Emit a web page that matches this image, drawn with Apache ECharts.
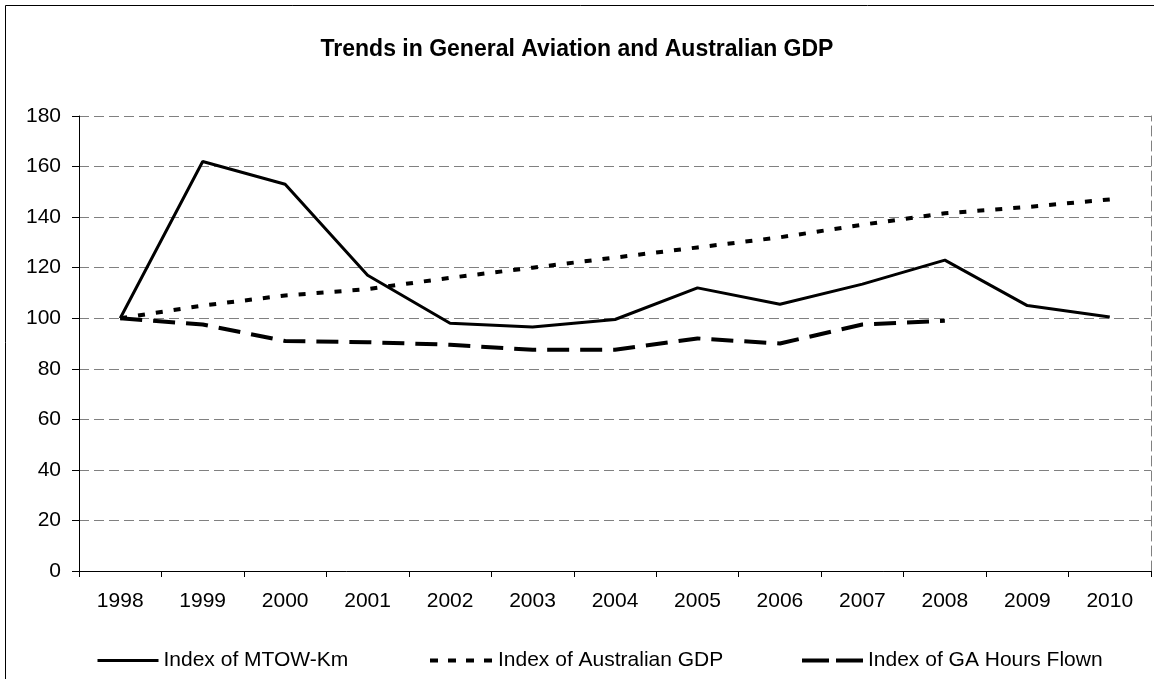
<!DOCTYPE html>
<html>
<head>
<meta charset="utf-8">
<script src="https://cdn.jsdelivr.net/npm/echarts@6/dist/echarts.min.js"></script>
<style>
html,body{margin:0;padding:0;background:#fff;}
#chart{width:1154px;height:679px;}
</style>
</head>
<body>
<div id="chart"></div>
<script>
var years = ['1998','1999','2000','2001','2002','2003','2004','2005','2006','2007','2008','2009','2010'];
var mtowIndex = [100, 162, 153, 117, 98, 96.5, 99.5, 112, 105.5, 113.5, 123, 105, 100.5];
var gdpIndex = [100, 105, 109, 111.5, 116, 120, 124, 128, 132, 137, 141.5, 144, 147];
var gaHoursIndex = [100, 97.5, 91, 90.5, 89.5, 87.5, 87.5, 92, 90, 97.5, 99, null, null];
var seriesNames = ['Index of MTOW-Km', 'Index of Australian GDP', 'Index of GA Hours Flown'];

var FONT = '"Liberation Sans", Arial, sans-serif';
var chart = echarts.init(document.getElementById('chart'), null, {renderer: 'canvas'});

function legendAt(name, left, w, lw, dash) {
  return {
    data: [name], left: left, top: 650, padding: 0,
    itemWidth: w, itemHeight: 20, itemGap: 0,
    selectedMode: false,
    itemStyle: {opacity: 0},
    lineStyle: {color: '#000', width: lw, type: dash, opacity: 1},
    textStyle: {fontFamily: FONT, fontSize: 21, fontWeight: 'normal', color: '#000'}
  };
}

chart.setOption({
  animation: false,
  backgroundColor: '#fff',
  title: {
    text: 'Trends in General Aviation and Australian GDP',
    left: 'center', top: 33,
    textStyle: {fontFamily: FONT, fontSize: 23, fontWeight: 'bold', color: '#000'}
  },
  graphic: [{
    type: 'rect', left: 3, top: 3, silent: true,
    shape: {x: 0, y: 0, width: 1170, height: 700},
    style: {fill: 'none', stroke: '#000', lineWidth: 1}
  }],
  legend: [
    legendAt(seriesNames[0], 96, 61, 3, 'solid'),
    legendAt(seriesNames[1], 428, 63, 4, [8, 10]),
    legendAt(seriesNames[2], 800, 61, 4, [27, 7])
  ],
  grid: {left: 79, right: 3, top: 116, bottom: 108, containLabel: false},
  xAxis: {
    type: 'category', data: years, boundaryGap: true,
    axisLine: {lineStyle: {color: '#000', width: 1}},
    axisTick: {show: true, length: 6, alignWithLabel: false, interval: 0, lineStyle: {color: '#000'}},
    axisLabel: {fontFamily: FONT, fontSize: 21, color: '#000', margin: 20, interval: 0},
    splitLine: {show: false}
  },
  yAxis: [{
    type: 'value', min: 0, max: 180, interval: 20,
    axisLine: {show: true, lineStyle: {color: '#000', width: 1}},
    axisTick: {show: true, length: 7, lineStyle: {color: '#000'}},
    axisLabel: {fontFamily: FONT, fontSize: 21, color: '#000', margin: 18},
    splitLine: {show: true, lineStyle: {color: '#808080', width: 1, type: [10, 5]}}
  }, {
    type: 'value', min: 0, max: 180, interval: 20, position: 'right',
    axisLine: {show: true, lineStyle: {color: '#808080', width: 1, type: [10, 5]}},
    axisTick: {show: false}, axisLabel: {show: false}, splitLine: {show: false}
  }],
  series: [{
    name: seriesNames[0], type: 'line', data: mtowIndex, symbol: 'none',
    lineStyle: {color: '#000', width: 3, type: 'solid'}, itemStyle: {color: '#000'}
  }, {
    name: seriesNames[1], type: 'line', data: gdpIndex, symbol: 'none',
    lineStyle: {color: '#000', width: 4, type: [7, 11]}, itemStyle: {color: '#000'}
  }, {
    name: seriesNames[2], type: 'line', data: gaHoursIndex, symbol: 'none', connectNulls: false,
    lineStyle: {color: '#000', width: 4, type: [22, 11]}, itemStyle: {color: '#000'}
  }]
});
</script>
</body>
</html>
